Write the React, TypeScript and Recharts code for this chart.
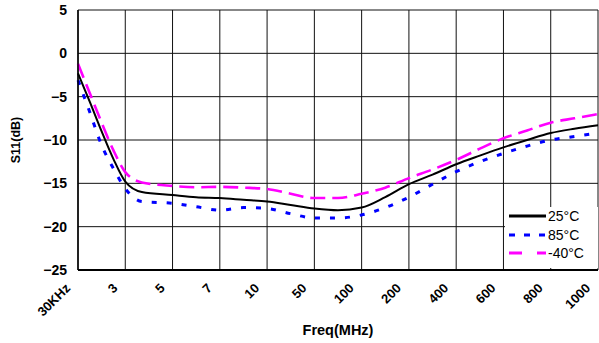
import React from 'react';
import { LineChart, Line, XAxis, YAxis, CartesianGrid } from 'recharts';

const categories = ['30KHz', '3', '5', '7', '10', '50', '100', '200', '400', '600', '800', '1000'];
const yTicks = [-25, -20, -15, -10, -5, 0, 5];
const positions = [0, 0.25, 0.5, 0.75, 1, 1.35, 2, 2.5, 3, 3.5, 4, 4.5, 5, 5.5, 6, 6.5, 7, 7.5, 8, 8.5, 9, 9.5, 10, 10.5, 11];
const s25 = [-2.3, -5.6, -9.0, -12.2, -14.8, -16.0, -16.35, -16.6, -16.7, -16.9, -17.1, -17.5, -17.9, -18.1, -17.8, -16.6, -15.1, -14.0, -12.8, -11.8, -10.85, -10.0, -9.2, -8.7, -8.3];
const s85 = [-3.1, -6.8, -10.6, -13.3, -15.6, -17.1, -17.3, -17.7, -18.1, -17.8, -17.9, -18.5, -19.0, -19.0, -18.65, -17.8, -16.6, -15.1, -13.65, -12.5, -11.55, -10.7, -10.0, -9.6, -9.2];
const sM40 = [-1.2, -4.6, -8.0, -11.2, -13.7, -14.9, -15.3, -15.45, -15.4, -15.5, -15.65, -16.2, -16.7, -16.7, -16.2, -15.5, -14.4, -13.4, -12.3, -11.0, -9.8, -8.9, -8.0, -7.5, -7.0];

const seriesInfo = [
  { key: 't25', name: '25°C', color: '#000000', dash: undefined as string | undefined, legendDash: undefined as string | undefined, width: 2 },
  { key: 't85', name: '85°C', color: '#0000ff', dash: '5 10', legendDash: '6 9', width: 3 },
  { key: 'tm40', name: '-40°C', color: '#ff00ff', dash: '15 7', legendDash: '13 15', width: 2.6 },
];

const data = positions.map((p, i) => ({ pos: p, t25: s25[i], t85: s85[i], tm40: sM40[i] }));

const FONT = '"Liberation Sans", Arial, Helvetica, sans-serif';

const XTick = (props: any) => {
  const { x, y, payload } = props;
  const label = categories[Math.round(payload.value)] ?? '';
  return (
    <g transform={`translate(${x - 7},${y + 19})`}>
      <text x={0} y={0} textAnchor="end" transform="rotate(-45)" fontFamily={FONT} fontWeight="bold" fontSize={13} fill="#000">
        {label}
      </text>
    </g>
  );
};

const fmtY = (v: number) => (v < 0 ? '\u2212' + Math.abs(v) : String(v));

const LegendBox = () => (
  <div style={{ position: 'absolute', left: 505, top: 207, background: '#fff', width: 93, height: 61, boxSizing: 'border-box', paddingTop: 0, fontFamily: FONT, fontSize: 14, color: '#000' }}>
    {seriesInfo.map((s) => (
      <div key={s.key} style={{ display: 'flex', alignItems: 'center', height: 18.5, whiteSpace: 'nowrap' }}>
        <svg width={43} height={10} style={{ display: 'block', flex: 'none' }}>
          <line x1={4} y1={5} x2={41} y2={5} stroke={s.color} strokeWidth={3} strokeDasharray={s.legendDash} />
        </svg>
        <span>{s.name}</span>
      </div>
    ))}
  </div>
);

export default function App() {
  return (
    <div style={{ position: 'absolute', left: 0, top: 0, width: 599, height: 343, background: '#fff' }}>
      <LineChart width={599} height={343} data={data} margin={{ top: 10, right: 1, bottom: 0, left: 0 }}>
        <CartesianGrid stroke="#111" strokeWidth={1} />
        <XAxis
          dataKey="pos"
          type="number"
          domain={[0, 11]}
          ticks={categories.map((_, i) => i)}
          interval={0}
          height={73}
          tickLine={false}
          tickSize={0}
          tickMargin={0}
          axisLine={{ stroke: '#000', strokeWidth: 2 }}
          tick={<XTick />}
          label={{
            content: (p: any) => {
              const vb = p.viewBox || { x: 78, y: 270, width: 520 };
              return (
                <text x={vb.x + vb.width / 2} y={vb.y + 65} textAnchor="middle" fontFamily={FONT} fontWeight="bold" fontSize={14.5} fill="#000">
                  Freq(MHz)
                </text>
              );
            },
          }}
        />
        <YAxis
          type="number"
          domain={[-25, 5]}
          ticks={yTicks}
          width={78}
          tickLine={false}
          tickSize={0}
          tickMargin={11}
          axisLine={{ stroke: '#000', strokeWidth: 1.5 }}
          tickFormatter={fmtY}
          tick={{ fontFamily: FONT, fontWeight: 'bold', fontSize: 14, fill: '#000' }}
          label={{
            content: (p: any) => {
              const vb = p.viewBox || { x: 0, y: 10, height: 260 };
              const cy = vb.y + vb.height / 2;
              return (
                <text x={19.5} y={cy} textAnchor="middle" transform={`rotate(-90, 19.5, ${cy})`} fontFamily={FONT} fontWeight="bold" fontSize={12.5} fill="#000">
                  S11(dB)
                </text>
              );
            },
          }}
        />
        {seriesInfo.map((s) => (
          <Line
            key={s.key}
            type="monotone"
            dataKey={s.key}
            name={s.name}
            stroke={s.color}
            strokeWidth={s.width}
            strokeDasharray={s.dash}
            dot={false}
            activeDot={false}
            isAnimationActive={false}
          />
        ))}
      </LineChart>
      <LegendBox />
    </div>
  );
}
